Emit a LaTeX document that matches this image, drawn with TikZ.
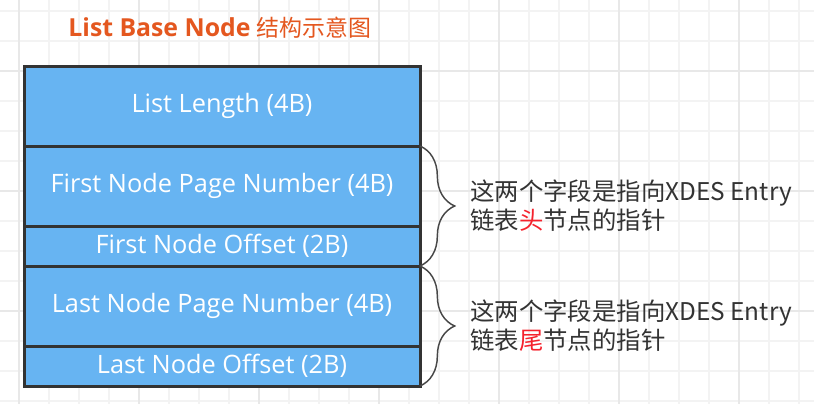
\documentclass[tikz,border=0pt]{standalone}
\usepackage{fontspec}
\usepackage{tikz}
\setmainfont{Open Sans}
\newfontfamily\cjk{Noto Sans CJK SC}
\definecolor{bleu}{HTML}{67B4F2}
\definecolor{bord}{HTML}{333333}
\definecolor{titre}{HTML}{E4571F}
\definecolor{grille}{HTML}{F3F3F3}
\definecolor{grilleb}{HTML}{E8E8E8}
\definecolor{texte}{HTML}{333333}
\definecolor{rouge}{HTML}{F5222D}
\usetikzlibrary{positioning,decorations.pathreplacing}

\begin{document}
\begin{tikzpicture}[x=0.75pt,y=-0.75pt,
  champ/.style={
    rectangle,
    minimum width=297pt,
    inner sep=0pt,
    outer sep=0pt,
    draw=bord,
    line width=2.25pt,
    fill=bleu,
    text=white,
    font=\fontsize{19}{22}\selectfont},
  accolade/.style={
    decorate,
    decoration={brace,amplitude=26pt},
    draw=bord!90,
    line width=1.1pt},
  note/.style={
    anchor=west,
    align=left,
    inner sep=0pt,
    text=texte,
    font=\cjk\fontsize{18.3}{21.75}\selectfont}]
  \useasboundingbox (0,0) rectangle (814,404);
  \fill[white] (0,0) rectangle (814,404);

  \foreach \x in {19,49,...,799}
    \draw[grille,line width=1.1pt] (\x,0) -- (\x,404);
  \foreach \y in {11,41,...,401}
    \draw[grille,line width=1.1pt] (0,\y) -- (814,\y);
  \foreach \x in {19,139,...,739}
    \draw[grilleb,line width=1.1pt] (\x,0) -- (\x,404);
  \foreach \y in {71,191,311}
    \draw[grilleb,line width=1.1pt] (0,\y) -- (814,\y);

  \node[text=titre,font=\fontsize{18.6}{22}\selectfont] at (220,28) (titre)
    {\textbf{List Base Node} {\cjk\fontsize{17.2}{22}\selectfont 结构示意图}};

  \node[champ,minimum height=60pt] at (222,106) (len) {List Length (4B)};
  \node[champ,minimum height=60pt,below=0pt of len] (fpage) {First Node Page Number (4B)};
  \node[champ,minimum height=30pt,below=0pt of fpage] (foff) {First Node Offset (2B)};
  \node[champ,minimum height=60pt,below=0pt of foff] (lpage) {Last Node Page Number (4B)};
  \node[champ,minimum height=30pt,below=0pt of lpage] (loff) {Last Node Offset (2B)};

  \draw[accolade] (fpage.north east) -- (foff.south east);
  \draw[accolade] (lpage.north east) -- (loff.south east);

  \path (fpage.north east) -- (foff.south east)
    node[midway,note,xshift=37.5pt] (nfirst)
    {这两个字段是指向XDES Entry\\链表{\color{rouge}头}节点的指针};
  \path (lpage.north east) -- (loff.south east)
    node[midway,note,xshift=37.5pt] (nlast)
    {这两个字段是指向XDES Entry\\链表{\color{rouge}尾}节点的指针};

\end{tikzpicture}
\end{document}
